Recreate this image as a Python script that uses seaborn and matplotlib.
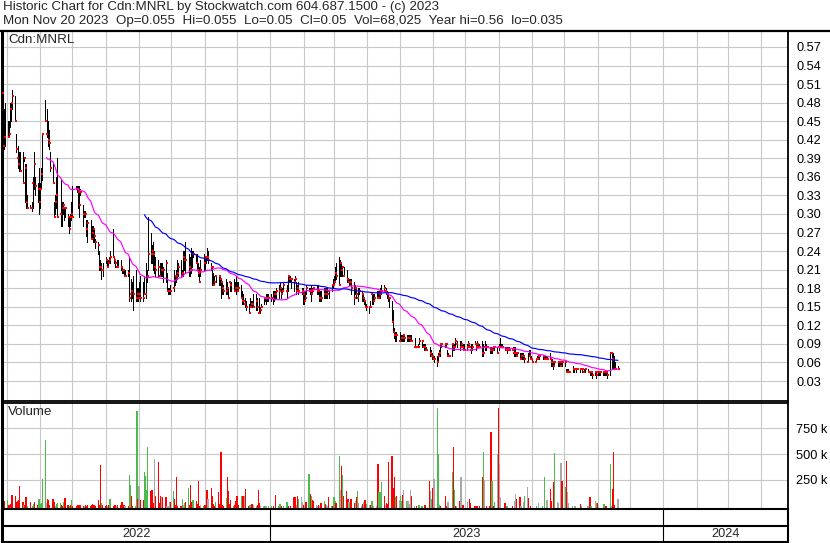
import numpy as np
import pandas as pd
import seaborn as sns
import matplotlib.pyplot as plt
import matplotlib.dates as mdates
from matplotlib.lines import Line2D

# daily bars, one row per week (Mon..Fri)
# first row: Wed 27 Apr 2022 .. Fri 29 Apr 2022, last row: Mon 20 Nov 2023
high = [
    .52, .47, .48,
    .45, .45, .48, .48, .50,
    .49, .43, .41, .40, .40,
    .40, .39, .38, .38, .33,
    .315, .32, .36, .40, .36,
    .35, .375, .35, .375, .43,
    .485, .47, .45, .435, .40,
    .38, .32, .33, .36, .39,
    .355, .32, .32, .31, .31,
    .30, .295, .30, .32, .345,
    .345, .345, .345, .345, .34,
    .315, .305, .305, .29, .29,
    .29, .28, .28, .275, .26,
    .255, .24, .225, .22, .22,
    .23, .225, .225, .23, .24,
    .275, .23, .225, .225, .225,
    .225, .215, .21, .21, .21,
    .21, .23, .195, .19, .20,
    .21, .18, .18, .19, .20,
    .19, .20, .22, .21, .295,
    .27, .25, .255, .24, .23,
    .225, .22, .22, .22, .215,
    .225, .205, .18, .18, .185,
    .21, .20, .21, .225, .22,
    .225, .21, .24, .24, .255,
    .235, .23, .245, .24, .24,
    .235, .235, .22, .215, .225,
    .235, .23, .23, .245, .24,
    .22, .215, .205, .20, .20,
    .20, .20, .195, .19, .185,
    .195, .19, .18, .19, .19,
    .195, .19, .20, .19, .19,
    .185, .175, .17, .165, .16,
    .155, .165, .16, .16, .17,
    .17, .165, .165, .15, .155,
    .165, .165, .17, .17, .17,
    # 2023
    .17, .175, .175, .175, .18,
    .185, .19, .18, .18, .19,
    .185, .20, .20, .20, .195,
    .195, .20, .19, .185, .19,
    .18, .18, .175, .175, .185,
    .18, .18, .185, .18, .18,
    .185, .185, .175, .175, .175,
    .18, .18, .18, .18, .175,
    .185, .195, .20, .215, .22,
    .23, .225, .22, .215, .215,
    .21, .195, .195, .195, .195,
    .19, .185, .18, .18, .18,
    .175, .17, .165, .16, .155,
    .15, .16, .17, .17, .17,
    .175, .175, .175, .18, .185,
    .185, .18, .175, .17, .165,
    .16, .145, .115, .11, .11,
    .11, .105, .105, .105, .105,
    .105, .105, .105, .105, .105,
    .10, .085, .085, .09, .10,
    .095, .09, .09, .09, .085,
    .085, .08, .075, .07, .07,
    .07, .075, .08, .09, .09,
    .09, .09, .08, .075, .07,
    .09, .09, .09, .10, .095,
    .095, .095, .09, .09, .09,
    .09, .095, .09, .09, .09,
    .095, .09, .095, .09, .09,
    .095, .09, .095, .09, .085,
    .085, .085, .085, .085, .085,
    .085, .09, .10, .09, .09,
    .085, .085, .085, .085, .085,
    .085, .085, .085, .075, .075,
    .075, .075, .075, .075, .07,
    .075, .08, .08, .07, .065,
    .06, .065, .07, .07, .07,
    .07, .07, .07, .07, .07,
    .075, .065, .065, .06, .06,
    .06, .06, .06, .06, .06,
    .06, .05, .05, .05, .045,
    .055, .05, .05, .05, .05,
    .05, .05, .05, .05, .05,
    .05, .045, .045, .045, .045,
    .045, .045, .045, .045, .045,
    .045, .045, .045, .045, .045,
    .075, .075, .075, .07, .06,
    .055,
]
low = [
    .40, .405, .41,
    .425, .425, .44, .45, .47,
    .45, .40, .375, .37, .37,
    .35, .385, .32, .31, .31,
    .31, .305, .31, .34, .33,
    .32, .30, .31, .34, .355,
    .45, .425, .41, .405, .37,
    .35, .295, .30, .31, .295,
    .28, .28, .30, .29, .295,
    .28, .27, .28, .29, .295,
    .34, .335, .31, .295, .33,
    .28, .295, .295, .265, .255,
    .26, .26, .255, .255, .245,
    .235, .21, .21, .195, .20,
    .22, .215, .215, .22, .22,
    .23, .22, .215, .215, .215,
    .21, .205, .205, .20, .20,
    .20, .16, .16, .165, .145,
    .16, .16, .16, .165, .16,
    .16, .17, .165, .19, .21,
    .22, .22, .21, .205, .20,
    .20, .20, .20, .20, .19,
    .19, .175, .17, .17, .17,
    .175, .185, .19, .195, .20,
    .20, .20, .20, .21, .205,
    .20, .20, .205, .215, .23,
    .22, .21, .20, .19, .20,
    .21, .21, .22, .225, .22,
    .21, .185, .185, .185, .19,
    .185, .185, .165, .17, .17,
    .17, .17, .165, .175, .175,
    .175, .175, .17, .175, .175,
    .165, .155, .155, .15, .145,
    .14, .15, .15, .15, .15,
    .145, .145, .14, .14, .15,
    .155, .16, .155, .16, .16,
    # 2023
    .16, .155, .16, .165, .165,
    .165, .175, .165, .17, .175,
    .165, .175, .19, .19, .18,
    .175, .19, .17, .175, .17,
    .17, .155, .155, .16, .17,
    .175, .17, .16, .17, .175,
    .17, .17, .16, .16, .16,
    .165, .165, .165, .165, .165,
    .175, .18, .185, .19, .195,
    .185, .20, .20, .20, .20,
    .19, .19, .185, .185, .17,
    .155, .17, .165, .16, .17,
    .16, .16, .155, .15, .145,
    .14, .15, .155, .155, .16,
    .165, .165, .165, .165, .17,
    .175, .17, .165, .16, .15,
    .125, .11, .10, .095, .095,
    .095, .095, .095, .095, .095,
    .095, .095, .095, .095, .095,
    .085, .085, .085, .085, .09,
    .085, .085, .08, .08, .08,
    .07, .07, .065, .065, .06,
    .055, .06, .07, .07, .085,
    .085, .085, .07, .07, .07,
    .07, .08, .08, .085, .085,
    .08, .085, .085, .08, .08,
    .08, .085, .085, .075, .08,
    .09, .08, .085, .085, .085,
    .07, .07, .08, .08, .085,
    .075, .075, .075, .08, .08,
    .075, .08, .085, .085, .085,
    .08, .08, .075, .08, .08,
    .08, .07, .07, .07, .07,
    .065, .065, .065, .065, .06,
    .06, .07, .065, .065, .06,
    .06, .06, .065, .065, .065,
    .065, .065, .065, .065, .065,
    .065, .055, .055, .05, .055,
    .055, .055, .055, .055, .055,
    .055, .045, .045, .045, .045,
    .045, .045, .05, .045, .05,
    .045, .05, .045, .045, .045,
    .045, .045, .04, .04, .035,
    .04, .035, .04, .04, .04,
    .04, .04, .04, .04, .035,
    .04, .05, .05, .05, .05,
    .05,
]
close = [
    .495, .41, .425,
    .425, .43, .47, .48, .49,
    .45, .405, .39, .38, .37,
    .35, .39, .375, .32, .31,
    .31, .31, .35, .38, .345,
    .34, .32, .34, .365, .43,
    .45, .43, .42, .415, .375,
    .35, .295, .32, .33, .295,
    .30, .31, .315, .31, .31,
    .295, .275, .295, .30, .295,
    .34, .34, .335, .315, .335,
    .30, .30, .30, .275, .285,
    .26, .27, .275, .265, .255,
    .25, .215, .215, .21, .21,
    .225, .215, .22, .225, .23,
    .23, .225, .22, .215, .215,
    .215, .21, .21, .20, .20,
    .205, .165, .17, .175, .17,
    .165, .17, .165, .17, .165,
    .165, .17, .17, .20, .235,
    .235, .24, .235, .215, .21,
    .215, .20, .21, .21, .21,
    .22, .175, .175, .175, .175,
    .18, .20, .20, .205, .215,
    .20, .205, .23, .225, .225,
    .215, .21, .21, .235, .235,
    .22, .21, .205, .19, .21,
    .22, .23, .23, .23, .225,
    .215, .215, .185, .19, .20,
    .20, .195, .19, .18, .175,
    .175, .18, .165, .19, .185,
    .175, .18, .18, .175, .18,
    .165, .16, .16, .155, .15,
    .14, .15, .155, .155, .15,
    .16, .15, .14, .145, .15,
    .165, .165, .165, .165, .165,
    # 2023
    .165, .165, .17, .17, .175,
    .175, .18, .17, .175, .185,
    .175, .20, .195, .195, .195,
    .19, .195, .175, .18, .175,
    .175, .17, .16, .165, .18,
    .175, .175, .17, .175, .18,
    .175, .175, .165, .165, .165,
    .17, .17, .17, .17, .175,
    .185, .185, .19, .205, .20,
    .185, .22, .21, .215, .20,
    .195, .19, .19, .19, .18,
    .165, .18, .17, .165, .175,
    .17, .165, .16, .15, .15,
    .15, .15, .17, .16, .165,
    .165, .165, .17, .17, .175,
    .18, .175, .17, .165, .165,
    .125, .11, .105, .105, .105,
    .095, .10, .10, .105, .10,
    .10, .10, .10, .095, .095,
    .085, .085, .085, .085, .095,
    .095, .085, .085, .08, .08,
    .075, .07, .07, .065, .065,
    .06, .07, .075, .09, .09,
    .09, .09, .07, .07, .07,
    .09, .085, .085, .095, .09,
    .085, .09, .085, .08, .08,
    .085, .09, .085, .08, .085,
    .09, .085, .09, .085, .085,
    .075, .075, .085, .085, .085,
    .08, .08, .08, .085, .085,
    .075, .085, .085, .085, .085,
    .08, .08, .08, .08, .08,
    .08, .075, .075, .07, .075,
    .065, .07, .07, .07, .065,
    .06, .07, .065, .065, .06,
    .06, .065, .065, .07, .07,
    .07, .065, .065, .065, .065,
    .065, .06, .06, .055, .06,
    .06, .06, .055, .06, .06,
    .06, .045, .045, .045, .045,
    .05, .05, .05, .05, .05,
    .05, .05, .05, .045, .05,
    .045, .045, .045, .045, .04,
    .045, .04, .045, .045, .045,
    .045, .045, .045, .045, .04,
    .075, .075, .065, .05, .05,
    .05,
]
# thousands of shares
volume_k = [
    156, 292, 49,
    58, 5, 10, 20, 107,
    97, 42, 49, 58, 195,
    42, 10, 5, 84, 3,
    42, 0, 3, 20, 42,
    10, 68, 15, 30, 263,
    632, 26, 68, 58, 10,
    68, 42, 3, 15, 26,
    32, 10, 3, 42, 75,
    10, 3, 5, 58, 3,
    0, 3, 5, 10, 5,
    3, 2, 5, 3, 5,
    3, 5, 20, 5, 3,
    58, 10, 399, 26, 5,
    3, 5, 2, 5, 68,
    3, 5, 10, 3, 10,
    5, 42, 3, 5, 2,
    3, 302, 204, 91, 3,
    3, 911, 65, 195, 58,
    58, 324, 285, 150, 568,
    140, 156, 30, 448, 91,
    422, 30, 91, 84, 84,
    84, 3, 3, 42, 42,
    140, 65, 10, 276, 3,
    3, 65, 5, 32, 42,
    172, 10, 204, 42, 58,
    49, 20, 237, 3, 10,
    3, 5, 10, 156, 68,
    172, 91, 20, 3, 42,
    130, 20, 519, 10, 3,
    75, 279, 140, 20, 58,
    3, 10, 49, 91, 5,
    97, 91, 91, 91, 162,
    3, 5, 3, 20, 5,
    3, 10, 156, 26, 3,
    3, 3, 3, 0, 3,
    # 2023
    3, 0, 3, 0, 107,
    3, 20, 3, 0, 3,
    42, 42, 3, 0, 3,
    84, 84, 5, 91, 68,
    81, 42, 5, 3, 42,
    311, 113, 97, 58, 49,
    10, 3, 5, 3, 26,
    49, 20, 10, 3, 84,
    3, 3, 84, 50, 26,
    486, 149, 389, 298, 91,
    146, 65, 42, 26, 65,
    26, 49, 84, 146, 26,
    3, 20, 42, 58, 20,
    10, 5, 49, 49, 3,
    3, 409, 136, 130, 233,
    97, 10, 32, 20, 422,
    480, 169, 282, 81, 97,
    58, 91, 49, 107, 149,
    49, 49, 20, 149, 97,
    3, 0, 3, 0, 5,
    3, 0, 5, 10, 0,
    237, 146, 65, 175, 259,
    947, 496, 10, 3, 0,
    0, 97, 3, 42, 0,
    331, 568, 149, 3, 3,
    49, 282, 0, 10, 0,
    42, 0, 68, 26, 0,
    3, 0, 3, 0, 3,
    282, 519, 246, 0, 3,
    3, 714, 237, 3, 39,
    503, 947, 409, 84, 0,
    32, 0, 3, 0, 0,
    3, 0, 52, 114, 68,
    81, 3, 0, 36, 97,
    182, 75, 0, 3, 0,
    0, 3, 0, 26, 0,
    3, 0, 279, 0, 58,
    165, 49, 0, 227, 506,
    36, 26, 0, 418, 237,
    182, 438, 133, 26, 0,
    3, 0, 3, 0, 0,
    16, 3, 0, 0, 0,
    3, 3, 84, 3, 0,
    49, 26, 26, 3, 0,
    0, 16, 0, 3, 0,
    409, 3, 162, 522, 10,
    68,
]
# volume bar colour per day: g = up, r = down, n = unchanged
vol_dir = [
    "rgr", "grrrr", "rrrrr", "rgrrg", "rnggr", "rgggg", "gnrrr", "rrngg",
    "grrgr", "rgrgr", "nrrrr", "rnrrr", "rrrrr", "rrrgr", "rrnrg", "rrrnr",
    "rrrrn", "rggrr", "ggrnr", "rgggg", "rrrnr", "rrrnr", "rnnnr", "grrrr",
    "rgngr", "grrrg", "rrrrn", "grrrn", "rrrrg", "rrrrr", "grrrr", "grrrr",
    "grrnr", "rggrn", "grrrn", "ngnng",
    # 2023
    "gnrnr", "ggrng", "ggrnr", "rrnrg", "nnrnr", "grgrr", "nnrnr", "grnnr",
    "grggr", "gnrgr", "rrngr", "rnrgn", "nrnrg", "nrggn", "nrggg", "rnrrr",
    "rrrgr", "nggrn", "gnnnr", "nnrng", "gnrrn", "rngrn", "gggrn", "nrrnn",
    "grgrn", "rnnrn", "nnrrn", "rnrnr", "rgnnr", "rrgrg", "nrnnn", "rngnn",
    "rnnnr", "rnnng", "nrnrn", "ngnnn", "gngnn", "rrnrg", "nnnnr", "grnnn",
    "gnnnn", "rgnnn", "nnrgn", "ngrnn", "ngnrn", "gnrrr", "n",
]

header1 = "Historic Chart for Cdn:MNRL by Stockwatch.com 604.687.1500 - (c) 2023"
header2 = ("Mon Nov 20 2023  Op=0.055  Hi=0.055  Lo=0.05  Cl=0.05  "
           "Vol=68,025  Year hi=0.56  lo=0.035")
symbol = "Cdn:MNRL"
price_ticks = [0.03, 0.06, 0.09, 0.12, 0.15, 0.18, 0.21, 0.24, 0.27, 0.30,
               0.33, 0.36, 0.39, 0.42, 0.45, 0.48, 0.51, 0.54, 0.57]
vol_ticks = [250000, 500000, 750000]
vol_labels = ["250 k", "500 k", "750 k"]
years = [2022, 2023, 2024]

dates = pd.bdate_range("2022-04-27", periods=len(close))
df = pd.DataFrame({
    "date": dates,
    "high": high,
    "low": low,
    "close": close,
    "volume": np.array(volume_k) * 1000.0,
    "dir": list("".join(vol_dir)),
})
df["ma_short"] = df["close"].rolling(30).mean()
df["ma_long"] = df["close"].rolling(95).mean()

W, H = 830, 543
sns.set_style("white")
plt.rcParams["font.family"] = ["Liberation Sans", "DejaVu Sans"]
fs = 9.2       # tick labels, years
fs_text = 9.6  # header and panel captions

fig = plt.figure(figsize=(W / 100, H / 100), dpi=100)


def px_box(left, top, right, bottom):
    return [left / W, 1 - bottom / H, (right - left) / W, (bottom - top) / H]


x0 = pd.Timestamp("2022-04-26 14:00")
x1 = pd.Timestamp("2024-04-26")
months = pd.date_range("2022-05-01", "2024-04-01", freq="MS")

ax = fig.add_axes(px_box(2, 31, 788, 401))
axv = fig.add_axes(px_box(2, 403, 788, 509))
axd = fig.add_axes(px_box(2, 509, 788, 542))

# price bars, close ticks, moving averages
ax.vlines(df["date"], df["low"], df["high"], color="black", linewidth=0.72,
          antialiased=False, zorder=2)
sns.scatterplot(x=df["date"] + pd.Timedelta(hours=20), y=df["close"], marker="s",
                s=2.6, color="red", linewidth=0, ax=ax, zorder=3)
sns.lineplot(x=df["date"], y=df["ma_short"], color="#ff00ff", linewidth=0.85,
             estimator=None, ax=ax, zorder=4)
sns.lineplot(x=df["date"], y=df["ma_long"], color="#0000ff", linewidth=0.85,
             estimator=None, ax=ax, zorder=4)

# volume
vbase = -30000
colors = df["dir"].map({"g": "#4cbb4c", "r": "#ff0000", "n": "#a8a8a8"})
m = df["volume"] > 0
axv.bar(df["date"][m], df["volume"][m] - vbase, bottom=vbase, width=1.2,
        color=colors[m], linewidth=0, antialiased=False, zorder=2)

for a in (ax, axv):
    a.set_xlim(x0, x1)
    a.set_xticks(months)
    a.tick_params(axis="x", length=0, labelbottom=False)
    a.grid(True, color="#c8c8c8", linewidth=0.8)
    a.set_axisbelow(True)
    a.set_xlabel("")
    a.set_ylabel("")
    a.yaxis.tick_right()
    a.tick_params(axis="y", length=0, pad=6, labelsize=fs, labelcolor="black")
    for side, s in a.spines.items():
        s.set_color("black")
        s.set_linewidth(2.2 if side == "left" else 1.3)

ax.set_ylim(-0.0023, 0.5958)
ax.set_yticks(price_ticks)
ax.set_yticklabels([f"{t:.2f}" for t in price_ticks])
axv.set_ylim(vbase, 993000)
axv.set_yticks(vol_ticks)
axv.set_yticklabels(vol_labels)

# year band under the chart
axd.set_xlim(mdates.date2num(x0), mdates.date2num(x1))
axd.set_ylim(0, 1)
axd.set_xticks([])
axd.set_yticks([])
for side, s in axd.spines.items():
    s.set_color("black")
    s.set_linewidth(2.2 if side == "left" else 1.5)
axd.axhline(0.5, color="black", linewidth=1.5)
for y in years:
    a_ = max(pd.Timestamp(f"{y}-01-01"), x0)
    b_ = min(pd.Timestamp(f"{y + 1}-01-01"), x1)
    if y > years[0]:
        axd.axvline(mdates.date2num(a_), color="black", linewidth=0.8)
    mid = (mdates.date2num(a_) + mdates.date2num(b_)) / 2
    axd.text(mid, 0.24, str(y), ha="center", va="center", fontsize=fs)

fig.add_artist(Line2D([0, 1], [1 - 30.5 / H] * 2, transform=fig.transFigure,
                      color="black", linewidth=1.6))
fig.text(3 / W, 1 - 1 / H, header1, ha="left", va="top", fontsize=fs_text)
fig.text(3 / W, 1 - 15 / H, header2, ha="left", va="top", fontsize=fs_text)
fig.text(8 / W, 1 - 34 / H, symbol, ha="left", va="top", fontsize=fs_text)
fig.text(8 / W, 1 - 406 / H, "Volume", ha="left", va="top", fontsize=fs_text)

fig.savefig("out.png", dpi=100)
